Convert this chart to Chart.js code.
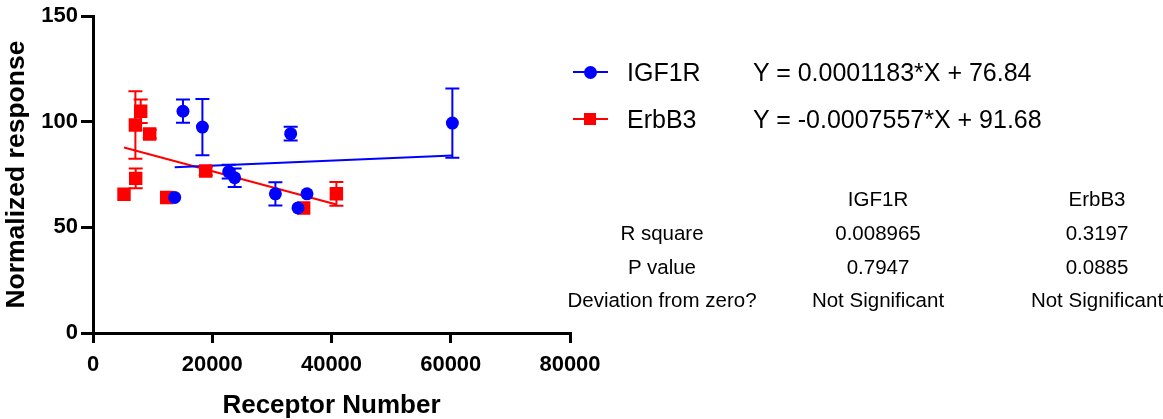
<!DOCTYPE html>
<html>
<head>
<meta charset="utf-8">
<script src="https://cdn.jsdelivr.net/npm/chart.js@4"></script>
<style>
  body { margin: 0; background: #fff; }
  #wrap { position: relative; width: 1163px; height: 419px; font-family: "Liberation Sans", Arial, sans-serif; color: #000; }
  #chart { position: absolute; left: 0; top: 0; }
  .txt { position: absolute; white-space: nowrap; line-height: 1; }
  .leg { font-size: 25px; transform: translateY(-50%); }
  .cell { font-size: 20.5px; transform: translate(-50%, -50%); }
  .mline { position: absolute; height: 2px; width: 35px; left: 573px; }
  .mark { position: absolute; }
</style>
</head>
<body>
<div id="wrap">
  <canvas id="chart" width="1163" height="419"></canvas>
</div>
<script>
// IGF1R: receptor number vs normalized response, with SD
const igfX = [13700, 15090, 18350, 22760, 23760, 30590, 33150, 34380, 35890, 60270];
const igfY = [64.2, 105, 97.5, 76.4, 73.5, 65.9, 94.4, 59.2, 65.9, 99.4];
const igfErr = [0, 5.5, 13.3, 3.3, 4.4, 5.5, 3.3, 0, 0, 16.4];

// ErbB3
const erbX = [5200, 7110, 7160, 8000, 9510, 12360, 18900, 35330, 40820];
const erbY = [65.7, 98.5, 73.2, 105, 94.2, 64.2, 76.7, 59.2, 65.9];
const erbErr = [0, 16, 4.7, 5.6, 2, 0, 2, 0, 5.6];

// fitted lines (end points)
const igfFitX = [13700, 60270];
const igfFitY = [78.5, 84.0];
const erbFitX = [5200, 40820];
const erbFitY = [87.8, 60.8];

const seriesNames = ['IGF1R', 'ErbB3'];
const equations = ['Y = 0.0001183*X + 76.84', 'Y = -0.0007557*X + 91.68'];
const tableRows = ['R square', 'P value', 'Deviation from zero?'];
const igfStats = ['0.008965', '0.7947', 'Not Significant'];
const erbStats = ['0.3197', '0.0885', 'Not Significant'];

const BLUE = '#0000ff';
const RED = '#ff0000';
const FONT = '"Liberation Sans", Arial, sans-serif';

const toPts = (xs, ys) => xs.map((x, i) => ({ x: x, y: ys[i] }));

const errorBars = {
  id: 'errorBars',
  beforeDatasetsDraw(chart) {
    const ctx = chart.ctx;
    const xs = chart.scales.x, ys = chart.scales.y;
    chart.data.datasets.forEach(ds => {
      if (!ds.errors) return;
      ctx.save();
      ctx.strokeStyle = ds.borderColor;
      ctx.lineWidth = 2;
      ds.data.forEach((p, i) => {
        const e = ds.errors[i];
        if (!e) return;
        const px = xs.getPixelForValue(p.x);
        const top = ys.getPixelForValue(p.y + e);
        const bot = ys.getPixelForValue(p.y - e);
        ctx.beginPath();
        ctx.moveTo(px, top); ctx.lineTo(px, bot);
        ctx.moveTo(px - 7, top); ctx.lineTo(px + 7, top);
        ctx.moveTo(px - 7, bot); ctx.lineTo(px + 7, bot);
        ctx.stroke();
      });
      ctx.restore();
    });
  }
};

new Chart(document.getElementById('chart').getContext('2d'), {
  type: 'scatter',
  data: {
    datasets: [
      {
        label: seriesNames[0], data: toPts(igfX, igfY), errors: igfErr,
        backgroundColor: BLUE, borderColor: BLUE, borderWidth: 0,
        pointStyle: 'circle', pointRadius: 6.5, order: 0
      },
      {
        label: seriesNames[1], data: toPts(erbX, erbY), errors: erbErr,
        backgroundColor: RED, borderColor: RED, borderWidth: 0,
        pointStyle: 'rect', pointRadius: 9.5, order: 1
      },
      {
        data: toPts(igfFitX, igfFitY), showLine: true, pointRadius: 0,
        borderColor: BLUE, borderWidth: 2, order: 2
      },
      {
        data: toPts(erbFitX, erbFitY), showLine: true, pointRadius: 0,
        borderColor: RED, borderWidth: 2, order: 2
      }
    ]
  },
  options: {
    responsive: false,
    animation: false,
    devicePixelRatio: 1,
    layout: { padding: { top: 13, right: 593, left: 0, bottom: 0 } },
    plugins: { legend: { display: false }, tooltip: { enabled: false } },
    scales: {
      x: {
        type: 'linear', min: 0, max: 80000,
        afterFit: s => { s.height = 86; },
        ticks: { stepSize: 20000, color: '#000', padding: 9, callback: v => String(v), font: { family: FONT, size: 22, weight: 'bold' } },
        grid: { drawOnChartArea: false, drawTicks: true, tickLength: 10, color: '#000', lineWidth: 3 },
        border: { color: '#000', width: 3 },
        title: { display: true, text: 'Receptor Number', color: '#000', padding: { top: 0, bottom: 0 }, font: { family: FONT, size: 26, weight: 'bold', lineHeight: 1 } }
      },
      y: {
        min: 0, max: 150,
        afterFit: s => { s.width = 93; },
        ticks: { stepSize: 50, color: '#000', padding: 3, font: { family: FONT, size: 22, weight: 'bold' } },
        grid: { drawOnChartArea: false, drawTicks: true, tickLength: 12, color: '#000', lineWidth: 3 },
        border: { color: '#000', width: 3 },
        title: { display: true, text: 'Normalized response', color: '#000', padding: { top: 1, bottom: 0 }, font: { family: FONT, size: 26.5, weight: 'bold' } }
      }
    }
  },
  plugins: [errorBars]
});

// legend with fit equations, and the stats table
const wrap = document.getElementById('wrap');
function addText(cls, text, x, y) {
  const d = document.createElement('div');
  d.className = 'txt ' + cls;
  d.textContent = text;
  d.style.left = x + 'px';
  d.style.top = y + 'px';
  wrap.appendChild(d);
}
function addBox(cls, style) {
  const d = document.createElement('div');
  d.className = cls;
  Object.assign(d.style, style);
  wrap.appendChild(d);
}

const legendY = [72, 119];
const legendColors = [BLUE, RED];
legendY.forEach((y, i) => {
  addBox('mline', { top: (y - 1) + 'px', background: legendColors[i] });
  if (i === 0) {
    addBox('mark', { left: '584px', top: (y - 6.5) + 'px', width: '13px', height: '13px', borderRadius: '50%', background: BLUE });
  } else {
    addBox('mark', { left: '584px', top: (y - 6) + 'px', width: '12px', height: '12px', background: RED });
  }
  addText('leg', seriesNames[i], 627, y);
  addText('leg', equations[i], 753, y);
});

const colX = [662, 878, 1097];
const rowY = [233, 267, 300];
addText('cell', seriesNames[0], colX[1], 199);
addText('cell', seriesNames[1], colX[2], 199);
tableRows.forEach((r, i) => {
  addText('cell', r, colX[0], rowY[i]);
  addText('cell', igfStats[i], colX[1], rowY[i]);
  addText('cell', erbStats[i], colX[2], rowY[i]);
});
</script>
</body>
</html>
